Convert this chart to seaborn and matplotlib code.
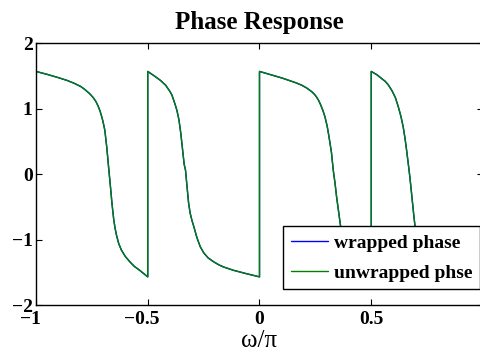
import matplotlib
matplotlib.use("Agg")
import matplotlib.pyplot as plt
from matplotlib.transforms import ScaledTranslation
import pandas as pd
import seaborn as sns

# Phase samples, one list per branch between the wrap points (omega in units of pi)
seg1_w = [-1.0, -0.95, -0.90, -0.863, -0.83, -0.80, -0.78, -0.76, -0.744, -0.732, -0.722,
          -0.714, -0.706, -0.700, -0.692, -0.683, -0.675, -0.668, -0.660, -0.652,
          -0.646, -0.640, -0.630, -0.618, -0.600, -0.580, -0.560, -0.536, -0.518, -0.5]
seg1_p = [1.57, 1.525, 1.475, 1.435, 1.39, 1.34, 1.29, 1.23, 1.17, 1.11, 1.04,
          0.97, 0.88, 0.80, 0.67, 0.40, 0.10, -0.15, -0.45, -0.70,
          -0.83, -0.93, -1.06, -1.16, -1.26, -1.34, -1.41, -1.47, -1.52, -1.57]

seg2_w = [-0.5, -0.485, -0.47, -0.444, -0.42, -0.40, -0.392, -0.385, -0.377, -0.370,
          -0.364, -0.360, -0.352, -0.345, -0.337, -0.331, -0.324, -0.317, -0.310,
          -0.302, -0.294, -0.280, -0.265, -0.25, -0.23, -0.205, -0.18, -0.16,
          -0.116, -0.06, 0.0]
seg2_p = [1.57, 1.535, 1.50, 1.435, 1.36, 1.26, 1.21, 1.14, 1.06, 0.98,
          0.89, 0.82, 0.62, 0.40, 0.15, 0.06, -0.20, -0.45, -0.60,
          -0.71, -0.80, -0.97, -1.11, -1.20, -1.28, -1.34, -1.39, -1.42,
          -1.47, -1.52, -1.57]

seg3_w = [0.0, 0.035, 0.07, 0.10, 0.13, 0.16, 0.189, 0.212, 0.234, 0.246, 0.255, 0.264,
          0.271, 0.283, 0.293, 0.303, 0.311, 0.322, 0.330, 0.338, 0.345, 0.355,
          0.363, 0.375, 0.39, 0.41, 0.43, 0.46, 0.48, 0.5]
seg3_p = [1.57, 1.535, 1.50, 1.47, 1.435, 1.40, 1.36, 1.315, 1.26, 1.22, 1.18, 1.13,
          1.08, 0.98, 0.875, 0.73, 0.57, 0.33, 0.06, -0.14, -0.35, -0.60,
          -0.80, -0.98, -1.12, -1.25, -1.34, -1.45, -1.51, -1.57]

seg4_w = [0.5, 0.525, 0.547, 0.562, 0.575, 0.592, 0.608, 0.621, 0.633, 0.643, 0.651,
          0.658, 0.666, 0.673, 0.679, 0.685, 0.691, 0.696, 0.703, 0.71, 0.72, 0.735,
          0.75, 0.765, 0.78, 0.80, 0.84, 0.88, 0.94, 1.0]
seg4_p = [1.57, 1.52, 1.46, 1.42, 1.37, 1.28, 1.17, 1.03, 0.88, 0.72, 0.55,
          0.37, 0.15, -0.05, -0.25, -0.45, -0.65, -0.80, -0.91, -1.0, -1.07, -1.15,
          -1.21, -1.26, -1.30, -1.35, -1.42, -1.47, -1.52, -1.57]

omega = seg1_w + seg2_w + seg3_w + seg4_w
wrapped_phase = seg1_p + seg2_p + seg3_p + seg4_p
# jumps are exactly pi, so unwrapping leaves the curve as it is
unwrapped_phase = list(wrapped_phase)

x_ticks = [-1, -0.5, 0, 0.5, 1]
x_tick_labels = ["\u22121", "\u22120.5", "0", "0.5", "1"]
y_ticks = [-2, -1, 0, 1, 2]
y_tick_labels = ["\u22122", "\u22121", "0", "1", "2"]

sns.set_style("ticks")
plt.rcParams["font.family"] = ["Liberation Serif", "DejaVu Serif"]
plt.rcParams["font.weight"] = "bold"
plt.rcParams["axes.linewidth"] = 1.0
plt.rcParams["text.color"] = "black"
plt.rcParams["axes.labelcolor"] = "black"
plt.rcParams["xtick.color"] = "black"
plt.rcParams["ytick.color"] = "black"

df = pd.DataFrame({"omega": omega, "wrapped": wrapped_phase, "unwrapped": unwrapped_phase})

fig = plt.figure(figsize=(4.81, 3.54), dpi=100)
ax = fig.add_axes([36 / 481, 49 / 354, 447 / 481, 261.7 / 354])

sns.lineplot(data=df, x="omega", y="wrapped", sort=False, estimator=None,
             color="#0000ff", lw=1.0, label="wrapped phase", ax=ax)
sns.lineplot(data=df, x="omega", y="unwrapped", sort=False, estimator=None,
             color="#008000", lw=1.0, label="unwrapped phse", ax=ax)

ax.set_xlim(-1, 1)
ax.set_ylim(-2, 2)
for s in ax.spines.values():
    s.set_visible(True)
    s.set_color("black")
    s.set_linewidth(1.0)

ax.tick_params(direction="in", top=True, right=True, length=4, width=0.8,
               colors="black", labelsize=14)
ax.tick_params(axis="x", pad=4.5)
ax.tick_params(axis="y", pad=2.4)
ax.set_xticks(x_ticks)
ax.set_xticklabels(x_tick_labels, fontweight="bold", color="black")
ax.set_yticks(y_ticks)
ax.set_yticklabels(y_tick_labels, fontweight="bold", color="black")

# centre negative labels on the digits, letting the minus sign hang left
for lab in ax.get_xticklabels():
    if lab.get_text().startswith("\u2212"):
        lab.set_transform(lab.get_transform() + ScaledTranslation(-5.5 / 100, 0, fig.dpi_scale_trans))

ax.set_title("Phase Response", fontsize=18, fontweight="bold", pad=10, color="black")
ax.set_xlabel("\u03c9/\u03c0", fontsize=18, fontweight="normal", labelpad=1, color="black")
ax.set_ylabel("")

leg = ax.legend(loc="lower right", bbox_to_anchor=(0.993, 0.06), borderaxespad=0,
                prop={"family": "Liberation Serif", "weight": "bold", "size": 14},
                frameon=True, fancybox=False, framealpha=1, edgecolor="black",
                handlelength=1.9, handletextpad=0.3, borderpad=0.4, labelspacing=0.62)
leg.get_frame().set_linewidth(1.0)
for t in leg.get_texts():
    t.set_color("black")

fig.savefig("out.png", dpi=100)
